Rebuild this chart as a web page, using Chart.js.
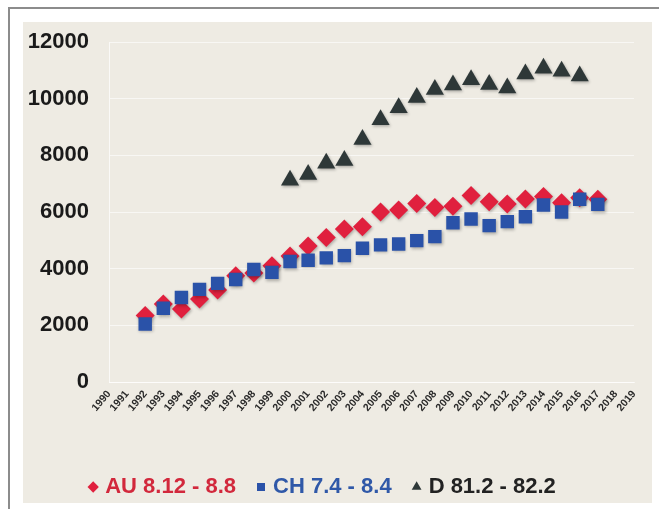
<!DOCTYPE html>
<html>
<head>
<meta charset="utf-8">
<script src="https://cdn.jsdelivr.net/npm/chart.js@4.4.1/dist/chart.umd.min.js"></script>
<style>
  html, body { margin: 0; padding: 0; background: #ffffff; overflow: hidden; }
  #frame { position: absolute; left: 8px; top: 7px; width: 660px; height: 500px;
           border-top: 2px solid #8c8c8c; border-left: 2px solid #8c8c8c; }
  #panel { position: absolute; left: 23px; top: 22px; width: 629px; height: 481px; background: #eeebe3; }
  #chart { position: absolute; left: 14px; top: 0px; }
</style>
</head>
<body>
<div id="frame"></div>
<div id="panel"></div>
<canvas id="chart" width="640" height="513"></canvas>
<script>
// Years on the category axis
const years = [1990, 1991, 1992, 1993, 1994, 1995, 1996, 1997, 1998, 1999,
               2000, 2001, 2002, 2003, 2004, 2005, 2006, 2007, 2008, 2009,
               2010, 2011, 2012, 2013, 2014, 2015, 2016, 2017, 2018, 2019];

// AU, 1992-2017
const auValues = [null, null, 2350, 2750, 2580, 2930, 3250, 3750, 3850, 4100,
                  4450, 4800, 5100, 5400, 5480, 6000, 6070, 6300, 6160, 6200,
                  6580, 6360, 6280, 6460, 6550, 6330, 6500, 6450, null, null];

// CH, 1992-2017
const chValues = [null, null, 2050, 2600, 2980, 3270, 3480, 3620, 3970, 3870,
                  4250, 4300, 4380, 4460, 4720, 4840, 4870, 4990, 5130, 5620,
                  5750, 5520, 5660, 5830, 6250, 6000, 6450, 6270, null, null];

// D, 2000-2016
const dValues = [null, null, null, null, null, null, null, null, null, null,
                 7120, 7320, 7720, 7820, 8560, 9260, 9680, 10040, 10320, 10480,
                 10670, 10500, 10380, 10870, 11070, 10970, 10800, null, null, null];

const seriesNames = ['AU 8.12 - 8.8', 'CH 7.4 - 8.4', 'D 81.2 - 82.2'];
const yTicks = [0, 2000, 4000, 6000, 8000, 10000, 12000];

const RED = '#e0203e';
const BLUE = '#2a52a8';
const DARK = '#2e3838';
const legendTextColors = ['#d2283c', '#2f58a8', '#222222'];

// soft drop shadow under the markers
const markerShadow = {
  id: 'markerShadow',
  beforeDatasetsDraw(chart) {
    const ctx = chart.ctx;
    ctx.save();
    ctx.shadowColor = 'rgba(0,0,0,0.28)';
    ctx.shadowBlur = 3;
    ctx.shadowOffsetX = 1;
    ctx.shadowOffsetY = 1.5;
  },
  afterDatasetsDraw(chart) {
    chart.ctx.restore();
  }
};

new Chart(document.getElementById('chart'), {
  type: 'line',
  data: {
    labels: years.map(String),
    datasets: [
      { label: seriesNames[0], data: auValues, showLine: false, order: 2,
        pointStyle: 'rectRot', pointRadius: 9.5, pointHoverRadius: 9.5,
        backgroundColor: RED, borderColor: RED, borderWidth: 0 },
      { label: seriesNames[1], data: chValues, showLine: false, order: 1,
        pointStyle: 'rect', pointRadius: 9.5, pointHoverRadius: 9.5,
        backgroundColor: BLUE, borderColor: BLUE, borderWidth: 0 },
      { label: seriesNames[2], data: dValues, showLine: false, order: 3,
        pointStyle: 'triangle', pointRadius: 10.5, pointHoverRadius: 10.5,
        backgroundColor: DARK, borderColor: DARK, borderWidth: 0 }
    ]
  },
  options: {
    responsive: false,
    animation: false,
    layout: { padding: { left: 0, right: 20, top: 42, bottom: 5 } },
    plugins: {
      tooltip: { enabled: false },
      legend: {
        position: 'bottom',
        labels: {
          usePointStyle: true,
          boxWidth: 2,
          boxHeight: 8,
          padding: 24,
          font: { family: 'Liberation Sans, Arial, sans-serif', size: 22, weight: 'bold' },
          sort: (a, b) => a.datasetIndex - b.datasetIndex,
          generateLabels(chart) {
            const items = Chart.defaults.plugins.legend.labels.generateLabels(chart);
            items.forEach(it => { it.fontColor = legendTextColors[it.datasetIndex]; it.lineWidth = 0; });
            return items;
          }
        }
      }
    },
    scales: {
      x: {
        type: 'category',
        offset: false,
        grid: { display: false, drawTicks: false },
        border: { display: true, color: 'rgba(255,255,255,0.6)', width: 1 },
        ticks: {
          autoSkip: false,
          minRotation: 50,
          maxRotation: 50,
          padding: 6,
          color: '#2a2a2a',
          font: { family: 'Liberation Sans, Arial, sans-serif', size: 10.5, weight: 'bold' }
        },
        afterFit(scale) { scale.height = 70; }
      },
      y: {
        min: 0,
        max: 12000,
        afterBuildTicks(scale) { scale.ticks = yTicks.map(v => ({ value: v })); },
        grid: { color: 'rgba(255,255,255,0.6)', lineWidth: 1, drawTicks: false },
        border: { display: true, color: 'rgba(255,255,255,0.7)', width: 1 },
        ticks: {
          padding: 20,
          color: '#1a1a1a',
          callback: (v) => String(v),
          font: { family: 'Liberation Sans, Arial, sans-serif', size: 22, weight: 'bold' }
        },
        afterFit(scale) { scale.width = 95; }
      }
    }
  },
  plugins: [markerShadow]
});
</script>
</body>
</html>
